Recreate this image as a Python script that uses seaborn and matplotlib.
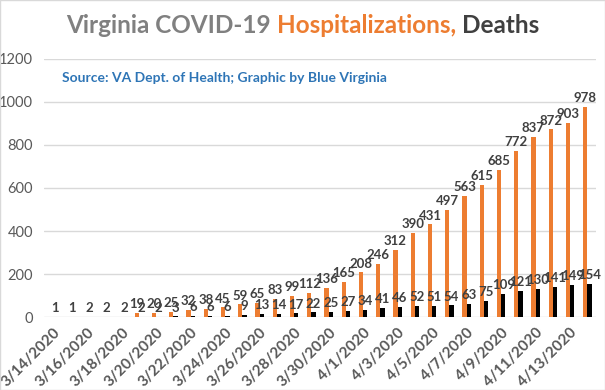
import matplotlib.pyplot as plt
import numpy as np
import pandas as pd
import seaborn as sns

dates = [
    "3/14/2020", "3/15/2020", "3/16/2020", "3/17/2020", "3/18/2020", "3/19/2020",
    "3/20/2020", "3/21/2020", "3/22/2020", "3/23/2020", "3/24/2020", "3/25/2020",
    "3/26/2020", "3/27/2020", "3/28/2020", "3/29/2020", "3/30/2020", "3/31/2020",
    "4/1/2020", "4/2/2020", "4/3/2020", "4/4/2020", "4/5/2020", "4/6/2020",
    "4/7/2020", "4/8/2020", "4/9/2020", "4/10/2020", "4/11/2020", "4/12/2020",
    "4/13/2020", "4/14/2020",
]
hospitalizations = [np.nan] * 5 + [
    19, 20, 25, 32, 38, 45, 59, 65, 83, 99, 112, 136, 165, 208, 246, 312,
    390, 431, 497, 563, 615, 685, 772, 837, 872, 903, 978,
]
deaths = [
    1, 1, 2, 2, 2, 2, 2, 3, 6, 6, 6, 9, 13, 14, 17, 22, 25, 27, 34, 41, 46,
    52, 51, 54, 63, 75, 109, 121, 130, 141, 149, 154,
]
y_ticks = [0, 200, 400, 600, 800, 1000, 1200]

df = pd.DataFrame({
    "date": dates * 2,
    "value": hospitalizations + deaths,
    "series": ["Hospitalizations"] * len(dates) + ["Deaths"] * len(dates),
})

sns.set_style("white")
plt.rcParams["font.family"] = ["Lato", "DejaVu Sans"]

fig = plt.figure(figsize=(6.05, 3.9), dpi=100)
ax = fig.add_axes([0.073, 0.187, 0.912, 0.662])

sns.barplot(
    data=df, x="date", y="value", hue="series", order=dates,
    palette={"Hospitalizations": "#ED7D31", "Deaths": "#000000"},
    width=0.5, gap=0, saturation=1, linewidth=0, legend=False, ax=ax,
)

for cont in ax.containers:
    ax.bar_label(cont, fmt="%g", fontsize=9.5, fontweight="bold",
                 color="#404040", padding=2)

ax.set_ylim(0, 1200)
ax.set_xlim(-0.5, len(dates) - 0.5)
ax.set_yticks(y_ticks)
ax.yaxis.grid(True, color="#D9D9D9", linewidth=1)
ax.set_axisbelow(True)
ax.set_xticks(range(0, len(dates), 2))
ax.set_xticklabels(dates[::2], rotation=45, ha="right", rotation_mode="anchor",
                   fontsize=11, fontweight="bold", color="#595959")
ax.tick_params(axis="y", labelsize=10.5, labelcolor="#595959", length=0, pad=8)
ax.tick_params(axis="x", length=0, pad=6)
ax.set_xlabel("")
ax.set_ylabel("")
sns.despine(ax=ax, left=True, bottom=True)

# multi-coloured title
parts = [("Virginia COVID-19 ", "#808080"), ("Hospitalizations, ", "#ED7D31"),
         ("Deaths", "#404040")]
fig.canvas.draw()
renderer = fig.canvas.get_renderer()
texts = []
for s, c in parts:
    texts.append(fig.text(0, 0.935, s, fontsize=17.5, fontweight="bold",
                          color=c, va="center", ha="left"))
widths = [t.get_window_extent(renderer).width for t in texts]
x = (fig.bbox.width - sum(widths)) / 2
for t, w in zip(texts, widths):
    t.set_x(x / fig.bbox.width)
    x += w

fig.text(0.103, 0.80, "Source: VA Dept. of Health; Graphic by Blue Virginia",
         fontsize=10, fontweight="bold", color="#2E75B6", va="center")

fig.patches.append(plt.Rectangle((0, 0), 1, 1, transform=fig.transFigure,
                                 fill=False, edgecolor="#D9D9D9", linewidth=1))

fig.savefig("out.png", dpi=100)
